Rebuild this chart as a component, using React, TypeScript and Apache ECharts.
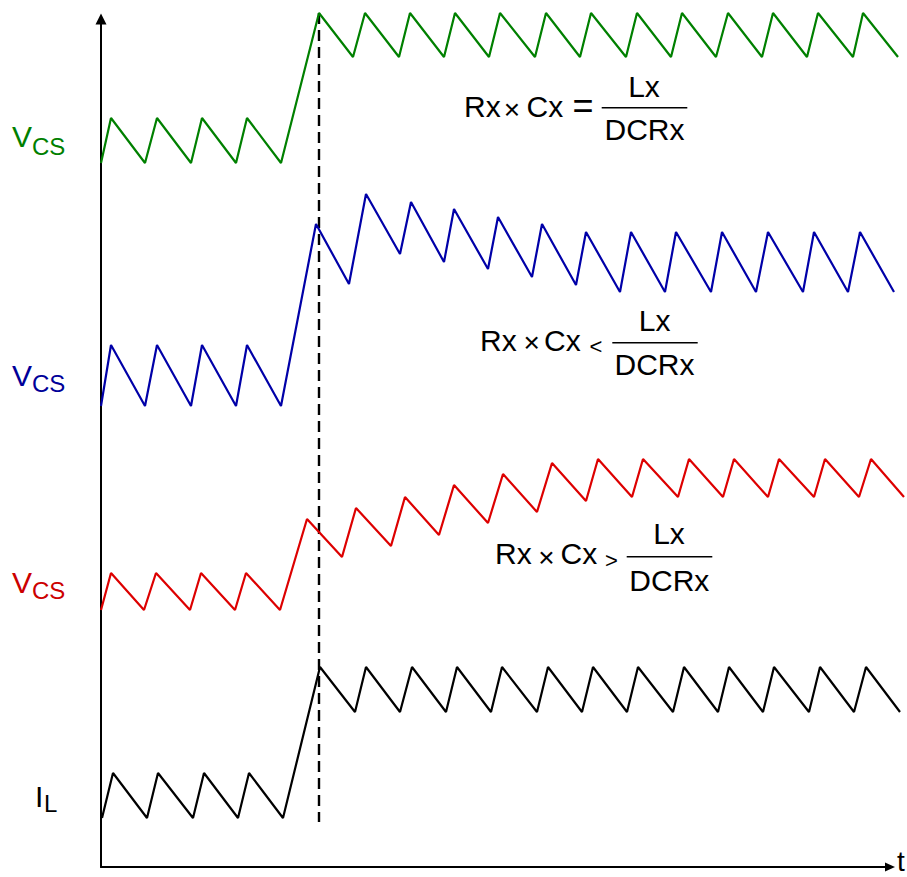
import React, { useEffect, useRef } from "react";
import * as echarts from "echarts";

// Time axis: arbitrary time units (0 = origin), value axis: arbitrary level units.
// Each waveform is a list of [time, level] vertices.
const greenVcs: [number, number][] = [
  [0, 704], [10, 749], [44, 704], [56, 749], [90, 704], [101, 749], [135, 704], [146, 749], [180, 704],
  [218, 854], [252, 810], [264, 854], [298, 810], [309, 854], [343, 810], [354, 854], [388, 810],
  [399, 854], [434, 810], [445, 854], [479, 810], [490, 854], [525, 810], [536, 854], [570, 810],
  [581, 854], [615, 810], [627, 854], [661, 810], [672, 854], [706, 810], [717, 854], [752, 810],
  [762, 854], [797, 810],
];

const blueVcs: [number, number][] = [
  [0, 461], [10, 522], [44, 461], [56, 522], [90, 461], [101, 522], [135, 461], [146, 522], [180, 461],
  [215, 643], [248, 583], [265, 673], [299, 613], [310, 665], [343, 605], [353, 658], [387, 598],
  [397, 650], [431, 590], [441, 643], [475, 582], [485, 635], [519, 575], [530, 635], [564, 575],
  [575, 635], [610, 575], [621, 635], [655, 575], [667, 635], [702, 575], [713, 635], [747, 575],
  [759, 635], [793, 575],
];

const redVcs: [number, number][] = [
  [0, 257], [10, 294], [43, 257], [55, 294], [89, 257], [100, 294], [134, 257], [145, 294], [179, 257],
  [206, 348], [241, 310], [255, 359], [290, 321], [304, 370], [338, 332], [353, 382], [387, 344],
  [402, 393], [436, 355], [451, 404], [485, 366], [497, 408], [531, 370], [542, 408], [577, 370],
  [588, 408], [622, 370], [633, 408], [667, 370], [678, 408], [713, 370], [724, 408], [758, 370],
  [770, 408], [803, 370],
];

const inductorCurrent: [number, number][] = [
  [1, 49], [12, 94], [46, 49], [57, 94], [92, 49], [103, 94], [137, 49], [148, 94], [182, 49],
  [219, 200], [254, 155], [265, 200], [299, 155], [311, 200], [345, 155], [356, 200], [390, 155],
  [401, 200], [436, 155], [447, 200], [481, 155], [492, 200], [526, 155], [537, 200], [572, 155],
  [583, 200], [617, 155], [628, 200], [662, 155], [673, 200], [708, 155], [719, 200], [753, 155],
  [765, 200], [799, 155],
];

const stepMarker: [number, number][] = [
  [218, 854],
  [218, 45],
];

// plotting extent of the data grid (time, level)
const DATA_X_MAX = 805;
const DATA_Y_MAX = 867;
// extent of the drawn (arrowed) axes
const AXIS_X_MAX = 789;
const AXIS_Y_MAX = 848;

const FONT = '"Liberation Sans", Arial, Helvetica, sans-serif';
const K = 0.3465; // em-box centre above baseline

function txt(
  text: string,
  x: number,
  y: number,
  size: number,
  color: string,
  align: "left" | "center" | "right" = "left"
) {
  return {
    type: "text",
    x,
    y,
    silent: true,
    style: {
      text,
      font: `${size}px ${FONT}`,
      fill: color,
      textAlign: align,
      textVerticalAlign: "middle",
      align,
      verticalAlign: "middle",
    },
  };
}

// text placed by its baseline
function base(text: string, x: number, baseline: number, size: number, color: string, align: "left" | "center" | "right" = "left") {
  return txt(text, x, baseline - K * size, size, color, align);
}

type Formula = {
  rx: number; base: number;
  timesX: number; timesY: number;
  cx: number;
  rel: string; relX: number; relY: number; relSize: number;
  barX1: number; barX2: number; barY: number;
  numX: number; numBase: number;
  denX: number; denBase: number;
};

function formula(f: Formula) {
  return [
    base("Rx", f.rx, f.base, 30, "#000"),
    txt("×", f.timesX, f.timesY, 28, "#000", "center"),
    base("Cx", f.cx, f.base, 30, "#000"),
    txt(f.rel, f.relX, f.relY, f.relSize, "#000", "center"),
    {
      type: "line",
      silent: true,
      shape: { x1: f.barX1, y1: f.barY, x2: f.barX2, y2: f.barY },
      style: { stroke: "#000", lineWidth: 1.5 },
    },
    base("Lx", f.numX, f.numBase, 30, "#000", "center"),
    base("DCRx", f.denX, f.denBase, 30, "#000", "center"),
  ];
}

export default function App() {
  const ref = useRef<HTMLDivElement>(null);

  useEffect(() => {
    if (!ref.current) return;
    const chart = echarts.init(ref.current, null, { renderer: "svg" });

    const wave = (name: string, data: [number, number][], color: string, dashed = false) => ({
      name,
      type: "line",
      xAxisIndex: 0,
      yAxisIndex: 0,
      data,
      symbol: "none",
      showSymbol: false,
      clip: false,
      silent: true,
      lineStyle: { color, width: dashed ? 2.4 : 2.2, type: dashed ? [11, 6] : "solid" },
      z: dashed ? 1 : 3,
    });

    const hiddenAxis = (gridIndex: number, max: number) => ({
      type: "value",
      gridIndex,
      min: 0,
      max,
      axisLine: { show: false },
      axisTick: { show: false },
      axisLabel: { show: false },
      splitLine: { show: false },
    });

    const arrowAxis = (max: number, size: number[]) => ({
      type: "value",
      gridIndex: 1,
      min: 0,
      max,
      axisLine: {
        show: true,
        onZero: false,
        symbol: ["none", "triangle"],
        symbolSize: size,
        lineStyle: { color: "#000", width: 2 },
      },
      axisTick: { show: false },
      axisLabel: { show: false },
      splitLine: { show: false },
    });

    const graphic: any[] = [
      // left labels
      base("V", 12, 146.7, 30, "#008000"),
      base("CS", 32, 154.5, 24, "#008000"),
      base("V", 12, 386, 30, "#000099"),
      base("CS", 32, 391.5, 24, "#000099"),
      base("V", 12, 593.3, 30, "#cc0000"),
      base("CS", 32, 599, 24, "#cc0000"),
      base("I", 35, 806.7, 30, "#000"),
      base("L", 44, 811.7, 24, "#000"),
      base("t", 897, 871, 28, "#000"),
      ...formula({
        rx: 464, base: 116.7, timesX: 512, timesY: 109, cx: 526.5,
        rel: "=", relX: 583, relY: 105.5, relSize: 36,
        barX1: 601.7, barX2: 687.3, barY: 107.7,
        numX: 644, numBase: 97.3, denX: 644.5, denBase: 140,
      }),
      ...formula({
        rx: 480, base: 350.7, timesX: 531.7, timesY: 342.5, cx: 544,
        rel: "<", relX: 596, relY: 346.3, relSize: 22,
        barX1: 612.3, barX2: 697.7, barY: 342.7,
        numX: 654.7, numBase: 330.7, denX: 654.5, denBase: 375,
      }),
      ...formula({
        rx: 495, base: 564, timesX: 546.3, timesY: 557.5, cx: 560.5,
        rel: ">", relX: 611.3, relY: 560.3, relSize: 22,
        barX1: 626.7, barX2: 712.3, barY: 556.7,
        numX: 669, numBase: 544, denX: 669.3, denBase: 590.7,
      }),
    ];

    chart.setOption({
      animation: false,
      backgroundColor: "#fff",
      grid: [
        { left: 101, right: 1, top: 0, bottom: 10, containLabel: false },
        { left: 101, right: 17, top: 19, bottom: 10, containLabel: false },
      ],
      xAxis: [hiddenAxis(0, DATA_X_MAX), arrowAxis(AXIS_X_MAX, [9, 10])],
      yAxis: [hiddenAxis(0, DATA_Y_MAX), arrowAxis(AXIS_Y_MAX, [11, 11])],
      series: [
        wave("step", stepMarker, "#000", true),
        wave("VCS (Rx·Cx = Lx/DCRx)", greenVcs, "#008000"),
        wave("VCS (Rx·Cx < Lx/DCRx)", blueVcs, "#0000a8"),
        wave("VCS (Rx·Cx > Lx/DCRx)", redVcs, "#dd0000"),
        wave("IL", inductorCurrent, "#000"),
      ],
      graphic,
    });

    return () => chart.dispose();
  }, []);

  return (
    <div
      ref={ref}
      style={{ position: "fixed", left: 0, top: 0, width: 907, height: 877, background: "#fff" }}
    />
  );
}
